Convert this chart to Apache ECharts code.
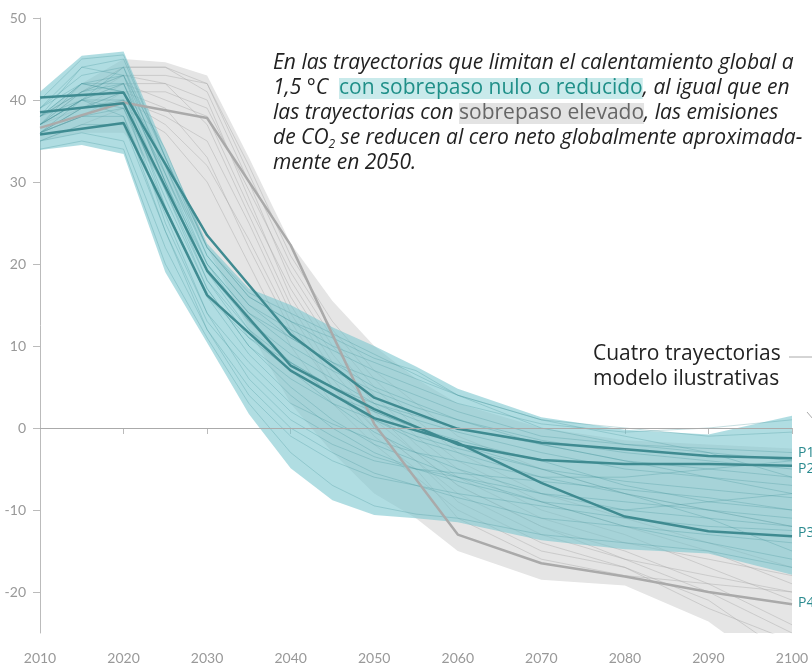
<!DOCTYPE html>
<html>
<head>
<meta charset="utf-8">
<script src="https://cdn.jsdelivr.net/npm/echarts@6/dist/echarts.min.js"></script>
<style>
  html, body { margin: 0; padding: 0; background: #fff; }
  #main { width: 812px; height: 669px; }
</style>
</head>
<body>
<div id="main"></div>
<script>
// años de las trayectorias (cada 5 años hasta 2060, luego cada 10)
var years = [2010, 2015, 2020, 2025, 2030, 2035, 2040, 2045, 2050, 2055, 2060, 2070, 2080, 2090, 2100];
var decades = [2010, 2020, 2030, 2040, 2050, 2060, 2070, 2080, 2090, 2100];

// rango: sobrepaso nulo o reducido (verde azulado)
var lowHi = [41, 45.4, 45.9, 34, 22.5, 17, 15, 12.3, 10, 7.5, 4.8, 1.3, -0.2, -0.8, 1.5];
var lowLo = [33.9, 34.5, 33.4, 19, 10.4, 1.7, -4.9, -8.8, -10.6, -11, -11.5, -13.7, -14.8, -15.3, -17.9];

// rango: sobrepaso elevado (gris)
var highHi = [38, 42, 45, 44.6, 43, 33, 22.5, 15.5, 10, 6, 3, 0, -1.5, -2, -2.5];
var highLo = [35, 36, 36, 30, 22, 12, 3, -3, -8, -11, -15, -18.5, -19.2, -23.6, -31];

// trayectorias individuales, sobrepaso nulo o reducido
var lowPaths = [
  [38, 44, 43, 32, 21, 15, 12, 9.5, 7, 5, 3, 0.5, -0.5, 0, 1],
  [37, 41, 42, 30, 20, 14, 11, 8, 6, 4, 2, -1, -2, -2.5, -3],
  [36, 39, 40, 28, 17, 10, 6, 3, 1, -1, -2.5, -5, -6.5, -7.5, -8.5],
  [35, 37, 37, 24, 12, 4, -1, -4, -6, -7, -8, -9.5, -11, -12, -12.5],
  [37, 40, 44, 33, 22, 16, 13, 10, 8, 6, 4, 1, 0, -1, -0.5],
  [38, 42, 41, 27, 16, 9, 4, 0, -3, -5, -6, -8, -9, -10, -11],
  [36, 38, 38, 26, 14, 6, 1, -2, -4, -5, -5.5, -6.5, -7.5, -8.5, -10],
  [39, 43, 44, 31, 19, 13, 9, 6, 3, 1, -0.5, -3, -5, -6, -7],
  [35, 36, 35, 22, 12, 5, 0, -3, -5.5, -7, -8.5, -11, -12, -13, -14],
  [37, 40, 39, 29, 18, 11, 7, 4, 2, 0, -1.5, -4, -7, -9, -10],
  [38, 42, 42, 30, 19, 12, 7, 3, -0.5, -3, -5, -8, -10, -11, -12],
  [36, 39, 41, 31, 20, 14, 10, 7, 4.5, 2.5, 1, -1.5, -3, -4, -5],
  [38, 41, 43, 34, 22, 16, 13, 11, 8.5, 7, 4, 1, -1, -3, -6],
  [37, 40, 40, 25, 14, 8, 3, 0.5, -1.5, -3, -4, -6, -8, -11, -15],
  [36, 38, 39, 27, 16, 11, 8, 5, 3, 1.5, 0, -2, -4, -5, -6],
  [39, 44, 45, 33, 21, 15, 11, 8, 5, 3, 1, -2, -4, -6, -8],
  [40, 45, 45.5, 33, 22, 16.5, 14, 11.5, 9, 6.5, 4, 0, -2, -3, -4],
  [34, 35, 34, 20, 11, 3, -3, -7, -9.5, -10.5, -11, -13, -14, -15, -17],
  [37, 42, 41, 29, 17, 10, 5, 1, -2, -4, -6, -9, -12, -14, -16],
  [38, 40, 42, 32, 20, 13, 8, 5, 2, 0, -2, -5, -8, -10, -12],
  [36, 40, 38, 24, 13, 7, 2, -1, -3.5, -5, -6.5, -9, -10, -9, -8],
  [39, 42, 43, 30, 18, 12, 8, 4, 1, -1.5, -3, -6, -6, -5, -4]
];

// trayectorias individuales, sobrepaso elevado
var highPaths = [
  [37, 40, 43, 43, 42, 31, 20, 12, 6, 1, -3, -8, -11, -14, -17],
  [36, 39, 42, 42, 40, 28, 16, 8, 2, -3, -7, -12, -15, -19, -24],
  [37, 41, 44, 44, 41, 30, 18, 10, 4, -1, -5, -10, -13, -17, -21],
  [36, 38, 40, 38, 35, 25, 14, 6, 0, -4, -8, -13, -16, -18, -20],
  [35, 37, 39, 36, 30, 20, 10, 3, -2, -6, -10, -15, -17, -21, -28],
  [37, 40, 42, 40, 38, 27, 17, 9, 3, -2, -6, -11, -14, -16, -18],
  [36, 38, 41, 39, 33, 22, 12, 5, 0, -4, -9, -14, -17, -22, -26],
  [38, 41, 44, 44, 42, 32, 21, 13, 7, 3, -1, -5, -8, -10, -12],
  [37, 39, 41, 41, 39, 29, 19, 11, 5, 0, -4, -9, -12, -15, -19],
  [38, 41, 43, 42, 37, 26, 15, 7, 1, -3, -7, -12, -16, -20, -25],
  [36, 38, 40, 37, 32, 23, 13, 5, -1, -5, -11, -16, -18, -19, -20]
];

// cuatro trayectorias modelo ilustrativas
var p1 = [40.3, 40.9, 23.5, 11.4, 3.7, -0.1, -1.8, -2.6, -3.4, -3.7];
var p2 = [38.5, 39.6, 19.2, 7.6, 2.3, -2.0, -3.9, -4.4, -4.4, -4.6];
var p3 = [35.8, 37.2, 16.2, 7.0, 1.2, -1.8, -6.7, -10.8, -12.6, -13.2];
var p4 = [36.6, 39.7, 37.8, 22.3, 0.5, -13.0, -16.5, -18.1, -20.0, -21.5];
var pNames = ['P1', 'P2', 'P3', 'P4'];

var yTicks = [-20, -10, 0, 10, 20, 30, 40, 50];

var TEAL_BAND = 'rgba(124,198,207,0.6)';
var GRAY_BAND = '#e5e5e5';
var TEAL_DARK = '#3f8b91';

function pairs(xs, ys) {
  var out = [];
  for (var i = 0; i < xs.length; i++) out.push([xs[i], ys[i]]);
  return out;
}

// banda entre dos curvas, dibujada con las escalas del gráfico
function band(name, lo, hi, color, z) {
  return {
    type: 'custom',
    name: name,
    silent: true,
    clip: true,
    z: z,
    data: [[years[0], lo[0]]],
    encode: { x: 0, y: 1 },
    renderItem: function (params, api) {
      var pts = [];
      for (var i = 0; i < years.length; i++) pts.push(api.coord([years[i], hi[i]]));
      for (var j = years.length - 1; j >= 0; j--) pts.push(api.coord([years[j], lo[j]]));
      return { type: 'polygon', shape: { points: pts }, style: { fill: color } };
    }
  };
}

function thin(vals, color, z) {
  return {
    type: 'line',
    data: pairs(years, vals),
    symbol: 'none',
    silent: true,
    z: z,
    lineStyle: { color: color, width: 1 }
  };
}

function model(i, vals, color, offY) {
  return {
    type: 'line',
    name: pNames[i],
    data: pairs(decades, vals),
    symbol: 'none',
    silent: true,
    z: 10,
    lineStyle: { color: color, width: 2.5 },
    endLabel: {
      show: true,
      formatter: pNames[i],
      color: '#2a8a8f',
      fontSize: 14,
      fontFamily: 'Open Sans',
      distance: 6,
      offset: [0, offY]
    }
  };
}

var series = [];
series.push(band('sobrepaso elevado', highLo, highHi, GRAY_BAND, 1));
highPaths.forEach(function (p) { series.push(thin(p, 'rgba(170,170,170,0.45)', 2)); });
series.push(band('sobrepaso nulo o reducido', lowLo, lowHi, TEAL_BAND, 3));
lowPaths.forEach(function (p) { series.push(thin(p, 'rgba(70,150,156,0.3)', 4)); });
series.push(model(3, p4, '#aaaaaa', -1));
series.push(model(2, p3, TEAL_DARK, -3));
series.push(model(1, p2, TEAL_DARK, 3));
var s1 = model(0, p1, TEAL_DARK, -5);
s1.markLine = {
  silent: true,
  symbol: ['none', 'none'],
  label: { show: false },
  lineStyle: { color: '#aaaaaa', width: 1, type: 'solid' },
  data: [{ yAxis: 0 }],
  z: 20
};
series.push(s1);

var myChart = echarts.init(document.getElementById('main'));
var option = {
  animation: false,
  backgroundColor: '#fff',
  title: {
    text: 'En las trayectorias que limitan el calentamiento global a\n' +
          '1,5 °C  {hl|con sobrepaso nulo o reducido}, al igual que en\n' +
          'las trayectorias con {hg|sobrepaso elevado}, las emisiones\n' +
          'de CO{sub|2} se reducen al cero neto globalmente aproximada-\n' +
          'mente en 2050.',
    left: 273,
    top: 51,
    padding: 0,
    textStyle: {
      fontFamily: 'Open Sans',
      fontStyle: 'italic',
      fontWeight: 'normal',
      fontSize: 21,
      lineHeight: 25,
      color: '#222',
      rich: {
        hl: { fontFamily: 'Open Sans', fontStyle: 'normal', fontSize: 21, lineHeight: 25, color: '#1f8f88', backgroundColor: '#c9eaeb' },
        hg: { fontFamily: 'Open Sans', fontStyle: 'normal', fontSize: 21, lineHeight: 25, color: '#666', backgroundColor: '#e3e3e3' },
        sub: { fontFamily: 'Open Sans', fontStyle: 'italic', fontSize: 12, lineHeight: 25, color: '#222', verticalAlign: 'bottom' }
      }
    }
  },
  grid: { left: 40, right: 20, top: 18, bottom: 36 },
  xAxis: {
    type: 'value',
    min: 2010,
    max: 2100,
    interval: 10,
    axisLine: { show: false },
    axisTick: { show: true, length: 6, lineStyle: { color: '#bbb' } },
    splitLine: { show: false },
    axisLabel: {
      color: '#999', fontSize: 14, fontFamily: 'Lato', margin: 18,
      formatter: function (v) { return String(v); }
    }
  },
  yAxis: {
    type: 'value',
    min: -25,
    max: 50,
    axisLine: { show: true, lineStyle: { color: '#bbb' } },
    axisTick: { show: true, length: 7, customValues: yTicks, lineStyle: { color: '#bbb' } },
    splitLine: { show: false },
    axisLabel: { color: '#999', fontSize: 14, fontFamily: 'Lato', margin: 14, customValues: yTicks }
  },
  graphic: [
    {
      type: 'text',
      left: 593,
      top: 342,
      z: 30,
      style: {
        text: 'Cuatro trayectorias\nmodelo ilustrativas',
        font: '21px "Open Sans"',
        lineHeight: 25,
        fill: '#222'
      }
    },
    {
      type: 'polyline',
      z: 30,
      shape: { points: [[789, 357], [812, 357]] },
      style: { stroke: '#aaa', lineWidth: 1, fill: null }
    },
    {
      type: 'polyline',
      z: 30,
      shape: { points: [[807, 412], [813, 419]] },
      style: { stroke: '#aaa', lineWidth: 1, fill: null }
    }
  ],
  series: series
};
myChart.setOption(option);
</script>
</body>
</html>
